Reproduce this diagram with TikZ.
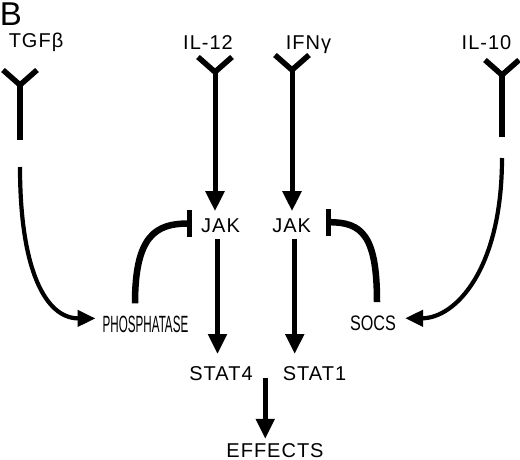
\documentclass[tikz,border=0pt]{standalone}
\usepackage{fontspec}
\usepackage{graphicx}
\setmainfont{Liberation Sans}
\newfontfamily\lblfont[LetterSpace=5]{Liberation Sans}
\usetikzlibrary{calc,arrows.meta,positioning}

\begin{document}
\begin{tikzpicture}[x=1pt,y=-1pt,
                >={Triangle[length=20pt,width=18pt]}]
        \tikzset{
                lbl/.style     = {inner sep=0pt, anchor=base, font=\lblfont\fontsize{20}{21}\selectfont},
                jakbox/.style  = {lbl, outer ysep=7pt},
                statbox/.style = {lbl, outer ysep=12pt},
                rline/.style   = {line width=5.5pt},
                arr/.style     = {->, line width=5pt},
                carr/.style    = {-{Triangle[length=18pt,width=16pt]}, line width=4.2pt},
                inh/.style     = {-{Bar[width=27pt,line width=5pt]}, line width=6.5pt},
                yarms/.pic     = {\draw[rline] (-17,-15) -- (0,0) -- (17,-15);}
        }
        \useasboundingbox (0,0) rectangle (520,460);

        % panel letter and ligands
        \node[lbl, font=\fontsize{33}{35}\selectfont] (panel) at (11,25.5) {B};
        \node[lbl] (tgf) at (36,48) {TGFβ};
        \node[lbl] (il12) at (208,50) {IL-12};
        \node[lbl] (ifng) at (308.5,50) {IFNγ};
        \node[lbl] (il10) at (486.5,50) {IL-10};

        % signalling molecules
        \node[jakbox] (jak1) at (220.5,232) {JAK};
        \node[jakbox] (jak2) at (291.7,232) {JAK};
        \node[statbox] (stat4) at (221,380) {STAT4};
        \node[statbox] (stat1) at (314.5,380) {STAT1};
        \node[lbl] (effects) at (275,457) {EFFECTS};
        \node[lbl, font=\fontsize{23.5}{24}\selectfont] (phos) at (145.5,332) {\scalebox{0.495}[1]{PHOSPHATASE}};
        \node[lbl, font=\fontsize{21}{22}\selectfont] (socs) at (373,330) {\scalebox{0.77}[1]{SOCS}};

        % receptors
        \coordinate (rtgf) at (20,85);
        \coordinate (ril12) at (215,72);
        \coordinate (rifng) at (292,70);
        \coordinate (ril10) at (502,75);
        \foreach \r in {rtgf,ril12,rifng,ril10}
        \pic at (\r) {yarms};

        \draw[rline] (rtgf) -- ++(0,55);
        \draw[rline] (ril10) -- ++(0,62);
        \draw[arr] (ril12) -- (ril12 |- jak1.north);
        \draw[arr] (rifng) -- (rifng |- jak2.north);

        % JAK to STAT to effects
        \draw[arr] ($(jak1.south)+(-3,0)$) -- ($(jak1.south |- stat4.north)+(-3,0)$);
        \draw[arr] ($(jak2.south)+(3,0)$) -- ($(jak2.south |- stat1.north)+(3,0)$);
        \coordinate (fork) at ($(stat4.base)!0.5!(stat1.base)+(-2.5,-2)$);
        \draw[arr] (fork) -- ($(fork |- effects.north)+(0,-4)$);

        % induction of the inhibitors
        \draw[carr] ($(rtgf)+(0,82)$) .. controls +(0,103) and +(-50,0) .. ($(phos.west)+(-7,-5.5)$);
        \draw[carr] ($(ril10)+(0,83)$) .. controls +(0,112) and +(50,0) .. ($(socs.east)+(9,-4.5)$);

        % inhibition of JAK
        \draw[inh] ($(phos.north)+(-10.5,-12)$) .. controls +(0,-68) and +(-36,0) .. ($(jak1.west)+(-9,-1.7)$);
        \draw[inh] ($(socs.north)+(4,-13)$) .. controls +(0,-67) and +(36,0) .. ($(jak2.east)+(14.5,-3)$);
\end{tikzpicture}
\end{document}
